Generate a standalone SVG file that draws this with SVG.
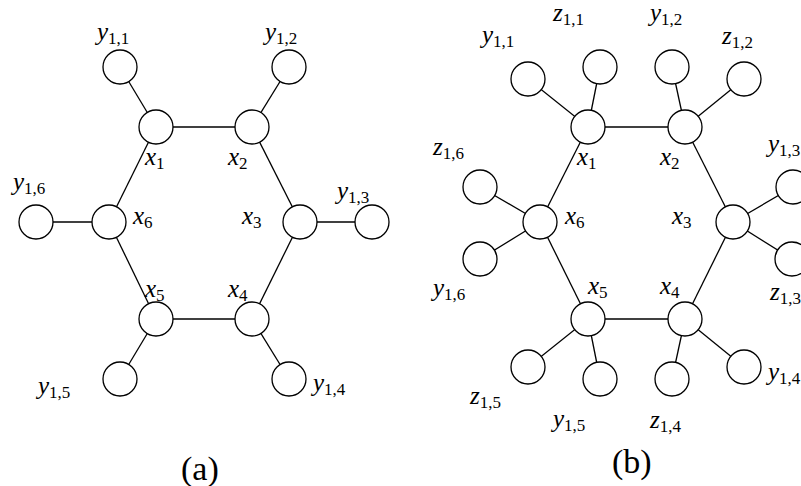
<svg xmlns="http://www.w3.org/2000/svg" width="801" height="486" viewBox="0 0 801 486">
<style>
.e line{stroke:#000;stroke-width:1.3}
.n circle{fill:#fff;stroke:#000;stroke-width:1.3}
.v{font-size:25px;font-style:italic}
.s{font-size:17px;font-style:normal}
.cap{font-size:34px}
</style>
<rect width="801" height="486" fill="#fff"/>
<g id="connectors" class="e">
<line x1="156" y1="127" x2="252" y2="127"/>
<line x1="252" y1="127" x2="300" y2="222"/>
<line x1="300" y1="222" x2="252" y2="319"/>
<line x1="252" y1="319" x2="156" y2="319"/>
<line x1="156" y1="319" x2="109" y2="222"/>
<line x1="109" y1="222" x2="156" y2="127"/>
<line x1="156" y1="127" x2="120" y2="67"/>
<line x1="252" y1="127" x2="289" y2="67"/>
<line x1="300" y1="222" x2="372" y2="222"/>
<line x1="252" y1="319" x2="289" y2="379"/>
<line x1="156" y1="319" x2="120" y2="379"/>
<line x1="109" y1="222" x2="36" y2="222"/>
<line x1="588" y1="127" x2="685" y2="127"/>
<line x1="685" y1="127" x2="733" y2="222"/>
<line x1="733" y1="222" x2="685" y2="319"/>
<line x1="685" y1="319" x2="588" y2="319"/>
<line x1="588" y1="319" x2="540" y2="222"/>
<line x1="540" y1="222" x2="588" y2="127"/>
<line x1="588" y1="127" x2="528" y2="79"/>
<line x1="588" y1="127" x2="600" y2="67"/>
<line x1="685" y1="127" x2="672" y2="67"/>
<line x1="685" y1="127" x2="744" y2="79"/>
<line x1="733" y1="222" x2="793" y2="187"/>
<line x1="733" y1="222" x2="792" y2="259"/>
<line x1="685" y1="319" x2="744" y2="367"/>
<line x1="685" y1="319" x2="672" y2="379"/>
<line x1="588" y1="319" x2="600" y2="379"/>
<line x1="588" y1="319" x2="528" y2="367"/>
<line x1="540" y1="222" x2="480" y2="259"/>
<line x1="540" y1="222" x2="480" y2="187"/>
</g>
<g class="n" font-family="Liberation Serif, Times New Roman, Times, DejaVu Serif, serif" fill="#000">
<g id="a-x1"><circle cx="156" cy="127" r="17"/><text class="v" x="145" y="165">x<tspan class="s" dy="4">1</tspan></text></g>
<g id="a-x2"><circle cx="252" cy="127" r="17"/><text class="v" x="228" y="165">x<tspan class="s" dy="4">2</tspan></text></g>
<g id="a-x3"><circle cx="300" cy="222" r="17"/><text class="v" x="242" y="224">x<tspan class="s" dy="4">3</tspan></text></g>
<g id="a-x4"><circle cx="252" cy="319" r="17"/><text class="v" x="228" y="297">x<tspan class="s" dy="4">4</tspan></text></g>
<g id="a-x5"><circle cx="156" cy="319" r="17"/><text class="v" x="145" y="297">x<tspan class="s" dy="4">5</tspan></text></g>
<g id="a-x6"><circle cx="109" cy="222" r="17"/><text class="v" x="133" y="224">x<tspan class="s" dy="4">6</tspan></text></g>
<g id="a-y11"><circle cx="120" cy="67" r="17"/><text class="v" x="97" y="40">y<tspan class="s" dy="4">1,1</tspan></text></g>
<g id="a-y12"><circle cx="289" cy="67" r="17"/><text class="v" x="265" y="40">y<tspan class="s" dy="4">1,2</tspan></text></g>
<g id="a-y13"><circle cx="372" cy="222" r="17"/><text class="v" x="337" y="199">y<tspan class="s" dy="4">1,3</tspan></text></g>
<g id="a-y14"><circle cx="289" cy="379" r="17"/><text class="v" x="313" y="391">y<tspan class="s" dy="4">1,4</tspan></text></g>
<g id="a-y15"><circle cx="120" cy="379" r="17"/><text class="v" x="38" y="394">y<tspan class="s" dy="4">1,5</tspan></text></g>
<g id="a-y16"><circle cx="36" cy="222" r="17"/><text class="v" x="13" y="190">y<tspan class="s" dy="4">1,6</tspan></text></g>

<g id="b-x1"><circle cx="588" cy="127" r="17"/><text class="v" x="577" y="165">x<tspan class="s" dy="4">1</tspan></text></g>
<g id="b-x2"><circle cx="685" cy="127" r="17"/><text class="v" x="660" y="165">x<tspan class="s" dy="4">2</tspan></text></g>
<g id="b-x3"><circle cx="733" cy="222" r="17"/><text class="v" x="672" y="224">x<tspan class="s" dy="4">3</tspan></text></g>
<g id="b-x4"><circle cx="685" cy="319" r="17"/><text class="v" x="660" y="294">x<tspan class="s" dy="4">4</tspan></text></g>
<g id="b-x5"><circle cx="588" cy="319" r="17"/><text class="v" x="588" y="294">x<tspan class="s" dy="4">5</tspan></text></g>
<g id="b-x6"><circle cx="540" cy="222" r="17"/><text class="v" x="565" y="224">x<tspan class="s" dy="4">6</tspan></text></g>
<g id="b-y11"><circle cx="528" cy="79" r="17"/><text class="v" x="482" y="43">y<tspan class="s" dy="4">1,1</tspan></text></g>
<g id="b-z11"><circle cx="600" cy="67" r="17"/><text class="v" x="553" y="21">z<tspan class="s" dy="4">1,1</tspan></text></g>
<g id="b-y12"><circle cx="672" cy="67" r="17"/><text class="v" x="650" y="21">y<tspan class="s" dy="4">1,2</tspan></text></g>
<g id="b-z12"><circle cx="744" cy="79" r="17"/><text class="v" x="722" y="44">z<tspan class="s" dy="4">1,2</tspan></text></g>
<g id="b-y13"><circle cx="793" cy="187" r="17"/><text class="v" x="768" y="152">y<tspan class="s" dy="4">1,3</tspan></text></g>
<g id="b-z13"><circle cx="792" cy="259" r="17"/><text class="v" x="770" y="300">z<tspan class="s" dy="4">1,3</tspan></text></g>
<g id="b-y14"><circle cx="744" cy="367" r="17"/><text class="v" x="768" y="380">y<tspan class="s" dy="4">1,4</tspan></text></g>
<g id="b-z14"><circle cx="672" cy="379" r="17"/><text class="v" x="650" y="428">z<tspan class="s" dy="4">1,4</tspan></text></g>
<g id="b-y15"><circle cx="600" cy="379" r="17"/><text class="v" x="553" y="427">y<tspan class="s" dy="4">1,5</tspan></text></g>
<g id="b-z15"><circle cx="528" cy="367" r="17"/><text class="v" x="470" y="404">z<tspan class="s" dy="4">1,5</tspan></text></g>
<g id="b-y16"><circle cx="480" cy="259" r="17"/><text class="v" x="433" y="296">y<tspan class="s" dy="4">1,6</tspan></text></g>
<g id="b-z16"><circle cx="480" cy="187" r="17"/><text class="v" x="433" y="155">z<tspan class="s" dy="4">1,6</tspan></text></g>
<text id="cap-a" class="cap" x="181" y="480">(a)</text>
<text id="cap-b" class="cap" x="612" y="473">(b)</text>
</g>
</svg>
